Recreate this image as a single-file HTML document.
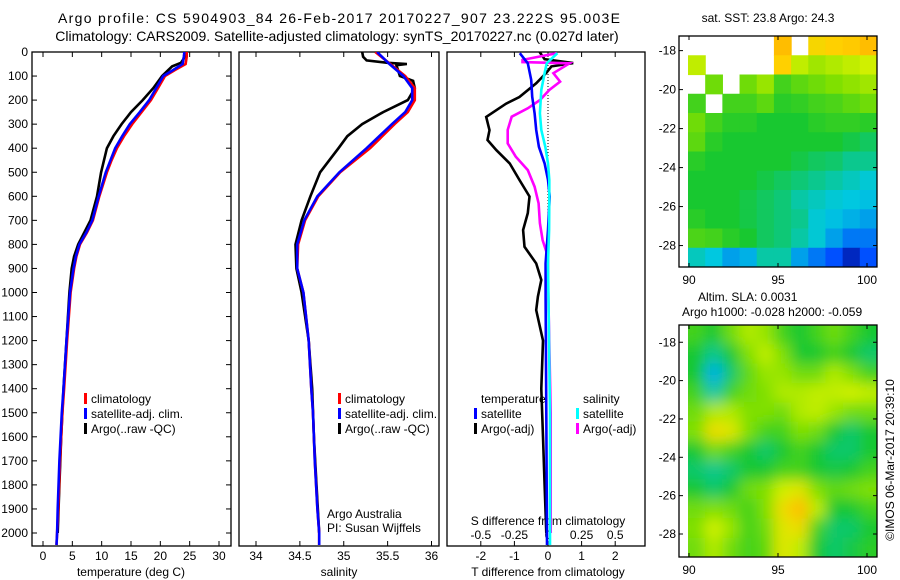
<!DOCTYPE html>
<html><head><meta charset="utf-8"><style>
html,body{margin:0;padding:0;background:#fff;}
svg{display:block;font-family:"Liberation Sans",sans-serif;}
text{font-size:12px;fill:#000;}
</style></head><body>
<svg id="fig" width="900" height="580" viewBox="0 0 900 580">
<defs>
<clipPath id="c1"><rect x="32" y="52" width="199" height="494"/></clipPath>
<clipPath id="c2"><rect x="239" y="52" width="200" height="494"/></clipPath>
<clipPath id="c3"><rect x="447" y="52" width="198" height="494"/></clipPath>
<clipPath id="cm1"><rect x="688" y="36" width="189" height="231"/></clipPath>
<clipPath id="cm2"><rect x="688" y="325" width="189" height="232"/></clipPath>
<filter id="blur" x="-5%" y="-5%" width="110%" height="110%"><feGaussianBlur stdDeviation="7"/></filter>
</defs>
<text x="58" y="23" textLength="562" lengthAdjust="spacing" style="font-size:14px">Argo profile: CS 5904903_84 26-Feb-2017 20170227_907 23.222S 95.003E</text>
<text x="337" y="41" text-anchor="middle" style="font-size:14px">Climatology: CARS2009. Satellite-adjusted climatology: synTS_20170227.nc (0.027d later)</text>
<g id="g1"></g>
<g id="g2"></g>
<g id="g3"></g>
<g id="m1"></g>
<g id="m2"></g>
<text x="768" y="22" text-anchor="middle">sat. SST: 23.8 Argo: 24.3</text>
<text x="698" y="301">Altim. SLA: 0.0031</text>
<text x="682" y="316">Argo h1000: -0.028 h2000: -0.059</text>
<text transform="translate(894,460) rotate(-90)" text-anchor="middle">©IMOS 06-Mar-2017 20:39:10</text>
</svg>
<script>
// ---- profile data ----
const depthTclim = [0,20,50,75,100,150,200,250,300,350,400,450,500,600,700,750,800,850,900,1000,1200,1400,1500,1700,1900,2000,2050];
const tempClim = [24.5,24.5,24.3,22.5,20.8,19.6,18.4,16.8,15.2,13.8,12.6,11.7,10.9,9.6,8.5,7.5,6.3,5.7,5.3,4.7,4.1,3.6,3.3,2.9,2.6,2.4,2.3];
const tempSat = [24.1,24.0,23.8,22.2,20.5,19.3,18.1,16.5,14.8,13.5,12.3,11.5,10.7,9.5,8.4,7.4,6.2,5.6,5.2,4.6,4.0,3.5,3.2,2.8,2.5,2.4,2.3];
const depthTargo = [0,20,45,60,100,150,200,250,300,350,400,500,600,700,800,850,900,1000,1200,1400,1600,1800,2000];
const tempArgo = [24.3,24.2,23.5,22.0,20.3,18.8,17.0,15.0,13.4,12.0,10.9,9.9,9.2,8.1,6.0,5.3,4.9,4.5,4.0,3.5,3.1,2.8,2.5];
const depthSclim = [0,50,100,150,200,250,300,400,500,600,700,800,900,1000,1200,1400,1500,1700,1900,2000,2050];
const salClim = [35.36,35.53,35.70,35.81,35.81,35.73,35.58,35.30,34.96,34.71,34.56,34.48,34.47,34.54,34.60,34.63,34.65,34.67,34.70,34.72,34.72];
const salSat = [35.38,35.52,35.68,35.78,35.78,35.70,35.55,35.26,34.95,34.70,34.55,34.47,34.47,34.54,34.60,34.63,34.65,34.67,34.70,34.72,34.72];
const depthSargo = [0,20,35,45,50,55,100,120,150,200,250,300,350,400,500,600,700,800,900,1000,1200,1400,1600,1800,2000];
const salArgo = [35.21,35.22,35.26,35.50,35.72,35.60,35.64,35.79,35.81,35.73,35.45,35.21,35.04,34.94,34.73,34.62,34.52,34.45,34.46,34.52,34.60,34.64,34.66,34.69,34.72];
const depthDTargo = [0,30,46,60,87,130,187,215,270,325,366,408,463,532,601,670,740,810,879,948,1017,1073,1200,1400,1600,1800,2000];
const diffTargo = [-0.25,-0.1,0.75,0.1,-0.05,-0.35,-0.85,-1.25,-1.84,-1.74,-1.8,-1.54,-1.14,-0.85,-0.55,-0.6,-0.74,-0.7,-0.35,-0.2,-0.3,-0.35,-0.15,-0.2,-0.15,-0.1,-0.05];
const depthDTsat = [5,47,116,186,255,324,394,463,532,601,740,879,1017,1500,2050];
const diffTsat = [-0.84,-0.6,-0.5,-0.47,-0.4,-0.35,-0.27,-0.1,0,0.05,0,-0.07,-0.07,-0.05,-0.03];
const depthDSargo = [5,33,42,47,88,123,158,200,234,269,324,380,435,491,560,629,712,782,851,948,1500,2000];
const diffSargo = [0.065,-0.19,-0.19,0.16,0.04,0.09,0.01,-0.06,-0.15,-0.27,-0.3,-0.3,-0.24,-0.15,-0.1,-0.07,-0.06,-0.04,0,0,0.02,0.02];
const depthDSsat = [5,47,88,158,255,324,394,463,532,601,740,879,1500,2050];
const diffSsat = [0.07,-0.01,-0.025,-0.05,-0.06,-0.05,-0.02,0,0.01,0.01,0.008,0,0.015,0.015];
const depthTicks = [0,100,200,300,400,500,600,700,800,900,1000,1100,1200,1300,1400,1500,1600,1700,1800,1900,2000];
const tempTicks = [0,5,10,15,20,25,30];
const salTicks = [34,34.5,35,35.5,36];
const salTickLabels = ["34","34.5","35","35.5","36"];
const dTTicks = [-2,-1,0,1,2];
const dSTicks = [-0.5,-0.25,0,0.25,0.5];
const dSTickLabels = ["-0.5","-0.25","0","0.25","0.5"];
// ---- map data (0..1 colour index, null = missing) ----
const sstGrid = [
[null,null,null,null,null,0.85,null,0.8,0.82,0.83,0.85],
[0.7,null,null,null,null,0.82,0.7,0.66,0.68,0.7,0.72],
[null,0.6,null,0.6,0.65,0.55,0.58,0.6,0.62,0.64,0.66],
[0.55,null,0.55,0.55,0.58,0.52,0.53,0.55,0.56,0.58,0.6],
[0.6,0.55,0.52,0.52,0.5,0.5,0.5,0.52,0.53,0.53,0.52],
[0.58,0.52,0.5,0.5,0.5,0.5,0.5,0.5,0.5,0.48,0.46],
[0.52,0.5,0.5,0.5,0.5,0.5,0.48,0.46,0.45,0.42,0.42],
[0.5,0.5,0.5,0.5,0.48,0.46,0.44,0.42,0.4,0.38,0.36],
[0.5,0.5,0.5,0.48,0.46,0.44,0.4,0.38,0.36,0.35,0.34],
[0.52,0.5,0.5,0.48,0.46,0.44,0.42,0.36,0.34,0.32,0.3],
[0.56,0.55,0.52,0.5,0.46,0.44,0.4,0.36,0.3,0.25,0.25],
[0.38,0.35,0.3,0.32,0.4,0.4,0.3,0.25,0.2,0.1,0.2]];
const slaGrid = [
[0.55,0.5,0.6,0.68,0.65,0.55,0.5,0.55,0.6,0.55,0.5],
[0.5,0.42,0.5,0.62,0.7,0.62,0.5,0.5,0.55,0.5,0.45],
[0.5,0.32,0.45,0.58,0.65,0.65,0.6,0.6,0.68,0.62,0.55],
[0.55,0.4,0.55,0.6,0.62,0.68,0.68,0.7,0.7,0.72,0.7],
[0.6,0.68,0.68,0.62,0.62,0.6,0.68,0.7,0.65,0.6,0.6],
[0.62,0.78,0.75,0.62,0.55,0.55,0.62,0.6,0.5,0.45,0.5],
[0.5,0.6,0.55,0.5,0.45,0.5,0.55,0.5,0.45,0.45,0.5],
[0.45,0.42,0.45,0.5,0.5,0.55,0.55,0.5,0.48,0.5,0.55],
[0.5,0.45,0.5,0.6,0.62,0.72,0.75,0.62,0.58,0.6,0.62],
[0.6,0.62,0.6,0.55,0.62,0.78,0.85,0.7,0.5,0.5,0.55],
[0.62,0.72,0.65,0.55,0.6,0.75,0.78,0.55,0.45,0.45,0.5],
[0.6,0.68,0.6,0.55,0.58,0.75,0.7,0.5,0.45,0.48,0.52]];
const lonTicks = [90,95,100];
const latTicks = [-18,-20,-22,-24,-26,-28];

const NS = "http://www.w3.org/2000/svg";
function mk(tag, attrs, parent, txt){
  const e = document.createElementNS(NS, tag);
  for (const k in attrs) e.setAttribute(k, attrs[k]);
  if (txt !== undefined) e.textContent = txt;
  parent.appendChild(e); return e;
}
const yD = d => 52 + d * 0.2405;
function lin(d0, d1, p0, p1){ return v => p0 + (v - d0) * (p1 - p0) / (d1 - d0); }
const xT = lin(0, 30, 43, 219);
const xS = lin(34, 36, 256, 431.5);
const xDT = lin(0, 2, 548, 615.2);
const xDS = lin(0, 0.5, 548, 615.2);

function line(g, xs, ds, sx, color, name, clip, w){
  const pts = xs.map((v,i)=> sx(v).toFixed(1)+","+yD(ds[i]).toFixed(1)).join(" ");
  const p = mk("polyline", {points: pts, fill:"none", stroke: color, "stroke-width": w||2.6, "clip-path":"url(#"+clip+")"}, g);
  
  
}
function frame(g, x, w, name){
  const r = mk("rect", {x:x, y:52, width:w, height:494, fill:"none", stroke:"#000", "stroke-width":1.3}, g);
  
  
}
function xTicks(g, vals, labels, sx, ly, top, name){
  vals.forEach((v,i)=>{
    const x = sx(v);
    mk("line",{x1:x,x2:x,y1:546,y2:541,stroke:"#000"},g);
    if (top) mk("line",{x1:x,x2:x,y1:52,y2:57,stroke:"#000"},g);
    const t = mk("text",{x:x,y:ly,"text-anchor":"middle"},g,labels[i]);
    
    
  });
}
function legend(g, x, y, color, label){
  const r = mk("rect",{x:x,y:y-10,width:3,height:11,fill:color},g);
  
  
  const t = mk("text",{x:x+7,y:y},g,label);
  
  
}

// Panel 1
const g1 = document.getElementById("g1");
frame(g1, 32, 199, "temperature-frame");
depthTicks.forEach(d=>{
  const y = yD(d);
  mk("line",{x1:32,x2:37,y1:y,y2:y,stroke:"#000"},g1);
  mk("line",{x1:231,x2:226,y1:y,y2:y,stroke:"#000"},g1);
  const t = mk("text",{x:28,y:y+4,"text-anchor":"end"},g1,String(d));
  
  
});
xTicks(g1, tempTicks, tempTicks.map(String), xT, 560, true, "temperature-tick-label");
mk("text",{x:131,y:576,"text-anchor":"middle"},g1,"temperature (deg C)");
line(g1, tempArgo, depthTargo, xT, "#000", "argo-temperature-line", "c1");
line(g1, tempClim, depthTclim, xT, "#f00", "clim-temperature-line", "c1");
line(g1, tempSat, depthTclim, xT, "#00f", "satellite-temperature-line", "c1");
legend(g1, 84, 403, "#f00", "climatology");
legend(g1, 84, 418, "#00f", "satellite-adj. clim.");
legend(g1, 84, 433, "#000", "Argo(..raw -QC)");

// Panel 2
const g2 = document.getElementById("g2");
frame(g2, 239, 200, "salinity-frame");
xTicks(g2, salTicks, salTickLabels, xS, 560, true, "salinity-tick-label");
mk("text",{x:339,y:576,"text-anchor":"middle"},g2,"salinity");
line(g2, salArgo, depthSargo, xS, "#000", "argo-salinity-line", "c2");
line(g2, salClim, depthSclim, xS, "#f00", "clim-salinity-line", "c2");
line(g2, salSat, depthSclim, xS, "#00f", "satellite-salinity-line", "c2");
legend(g2, 338, 403, "#f00", "climatology");
legend(g2, 338, 418, "#00f", "satellite-adj. clim.");
legend(g2, 338, 433, "#000", "Argo(..raw -QC)");
mk("text",{x:327,y:518},g2,"Argo Australia");
mk("text",{x:327,y:532},g2,"PI: Susan Wijffels");

// Panel 3
const g3 = document.getElementById("g3");
frame(g3, 447, 198, "difference-frame");
mk("line",{x1:548,x2:548,y1:53,y2:yD(900),stroke:"#000","stroke-dasharray":"1,2"},g3);
xTicks(g3, dTTicks, dTTicks.map(String), xDT, 560, true, "t-diff-tick-label");
dSTicks.forEach((v,i)=>{
  const t = mk("text",{x:xDS(v),y:539,"text-anchor":"middle"},g3,dSTickLabels[i]);
  
  
});
mk("text",{x:548,y:525,"text-anchor":"middle"},g3,"S difference from climatology");
mk("text",{x:548,y:576,"text-anchor":"middle"},g3,"T difference from climatology");
line(g3, diffTargo, depthDTargo, xDT, "#000", "argo-t-diff-line", "c3");
line(g3, diffSargo, depthDSargo, xDS, "#f0f", "argo-s-diff-line", "c3");
line(g3, diffTsat, depthDTsat, xDT, "#00f", "satellite-t-diff-line", "c3");
line(g3, diffSsat, depthDSsat, xDS, "#0ff", "satellite-s-diff-line", "c3");
mk("text",{x:481,y:403},g3,"temperature");
mk("text",{x:583,y:403},g3,"salinity");
legend(g3, 474, 418, "#00f", "satellite");
legend(g3, 474, 433, "#000", "Argo(-adj)");
legend(g3, 576, 418, "#0ff", "satellite");
legend(g3, 576, 433, "#f0f", "Argo(-adj)");

// colour map
const stops = [[0,[0,0,128]],[0.2,[0,80,255]],[0.35,[0,200,224]],[0.5,[24,200,48]],[0.62,[128,224,0]],[0.72,[208,240,0]],[0.82,[255,208,0]],[0.92,[255,144,0]],[1,[255,80,0]]];
function cmap(v){
  for (let i=1;i<stops.length;i++){
    if (v<=stops[i][0]){
      const a=stops[i-1], b=stops[i], f=(v-a[0])/(b[0]-a[0]);
      const c=a[1].map((x,k)=>Math.round(x+(b[1][k]-x)*f));
      return "rgb("+c.join(",")+")";
    }
  }
  return "rgb(255,80,0)";
}
function drawMap(gid, grid, top, bottom, latTop, latBot, clip, blurId, ex){
  const g = document.getElementById(gid);
  const lonX = lin(90, 100, 689, 867);
  const latY = lin(latTop, latBot, top, bottom);
  const cells = mk("g", {"clip-path":"url(#"+clip+")"}, g);
  const inner = blurId ? mk("g",{filter:"url(#"+blurId+")"},cells) : cells;
  const nr = grid.length, nc = grid[0].length;
  const x0 = 688, cw = (877-688)/nc, rh = (bottom-top)/nr;
  grid.forEach((row,r)=>row.forEach((v,c)=>{
    if (v===null) return;
    const rc = mk("rect",{x:x0+c*cw-(c===0?ex:0),y:top+r*rh-(r===0?ex:0),width:cw+0.6+(c===0||c===nc-1?ex:0),height:rh+0.6+(r===0||r===nr-1?ex:0),fill:cmap(v)},inner);
    
    
  }));
  const fr = mk("rect",{x:679,y:top,width:198,height:bottom-top,fill:"none",stroke:"#000","stroke-width":1.3},g);
  
  
  lonTicks.forEach(v=>{
    const x = lonX(v);
    mk("line",{x1:x,x2:x,y1:top,y2:top+4,stroke:"#000"},g);
    mk("line",{x1:x,x2:x,y1:bottom,y2:bottom-4,stroke:"#000"},g);
    const t = mk("text",{x:x,y:bottom+17,"text-anchor":"middle"},g,String(v));
    
    
  });
  latTicks.forEach(v=>{
    const y = latY(v);
    mk("line",{x1:679,x2:683,y1:y,y2:y,stroke:"#000"},g);
    mk("line",{x1:877,x2:873,y1:y,y2:y,stroke:"#000"},g);
    const t = mk("text",{x:676,y:y+4,"text-anchor":"end"},g,String(v));
    
    
  });
}
drawMap("m1", sstGrid, 36, 267, -17.25, -29.1, "cm1", null, 0);
drawMap("m2", slaGrid, 325, 557, -17.1, -29.2, "cm2", "blur", 14);
</script>
</body></html>
